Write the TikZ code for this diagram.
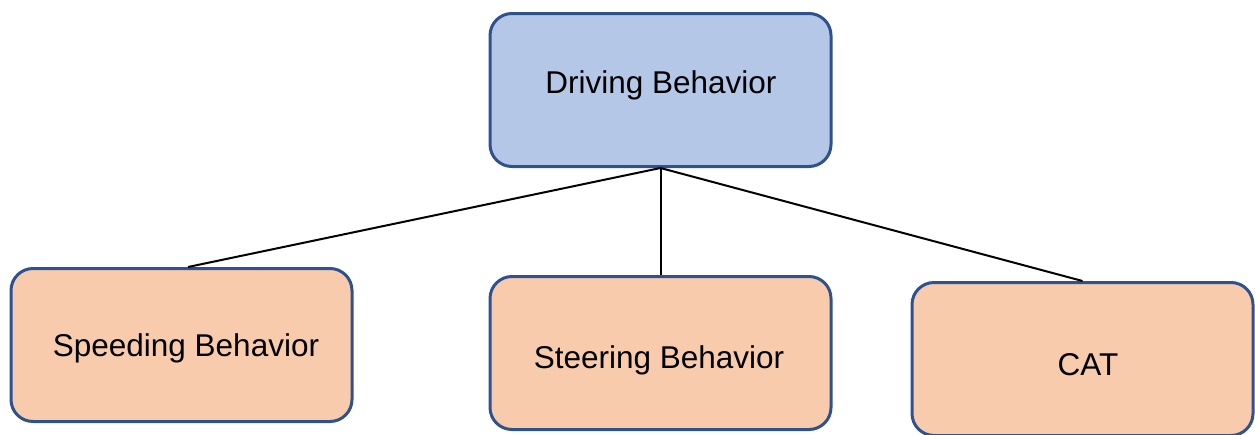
\documentclass[tikz,border=0pt]{standalone}
\usepackage{fontspec}
\setmainfont{Liberation Sans}
\definecolor{bordercol}{HTML}{2F528F}
\definecolor{topfill}{HTML}{B4C7E7}
\definecolor{childfill}{HTML}{F8CBAD}
\tikzset{
  box/.style={draw=bordercol, line width=3pt, rounded corners=22pt, minimum width=341pt, minimum height=153pt, inner sep=0pt},
  topbox/.style={box, fill=topfill},
  childbox/.style={box, fill=childfill},
  lbl/.style={anchor=base, inner sep=0pt, font=\fontsize{31.5}{36}\selectfont},
  conn/.style={draw=black, line width=2pt}
}
\begin{document}
\begin{tikzpicture}[x=1pt,y=-1pt]
\useasboundingbox (0,0) rectangle (1255,434);
\node[topbox] (top) at (660.5,90) {};
\node[childbox] (speed) at (181.5,345) {};
\node[childbox] (steer) at (660.5,353) {};
\node[childbox] (cat) at (1082.5,359) {};
\node[lbl] (ttop) at (661,93) {Driving Behavior};
\node[lbl] (tspeed) at (186,356) {Speeding Behavior};
\node[lbl] (tsteer) at (659,368) {Steering Behavior};
\node[lbl] (tcat) at (1088,375) {CAT};
\draw[conn] (top.south) -- ([xshift=6.5pt]speed.north);
\draw[conn] (top.south) -- (steer.north);
\draw[conn] (top.south) -- (cat.north);
\end{tikzpicture}
\end{document}
